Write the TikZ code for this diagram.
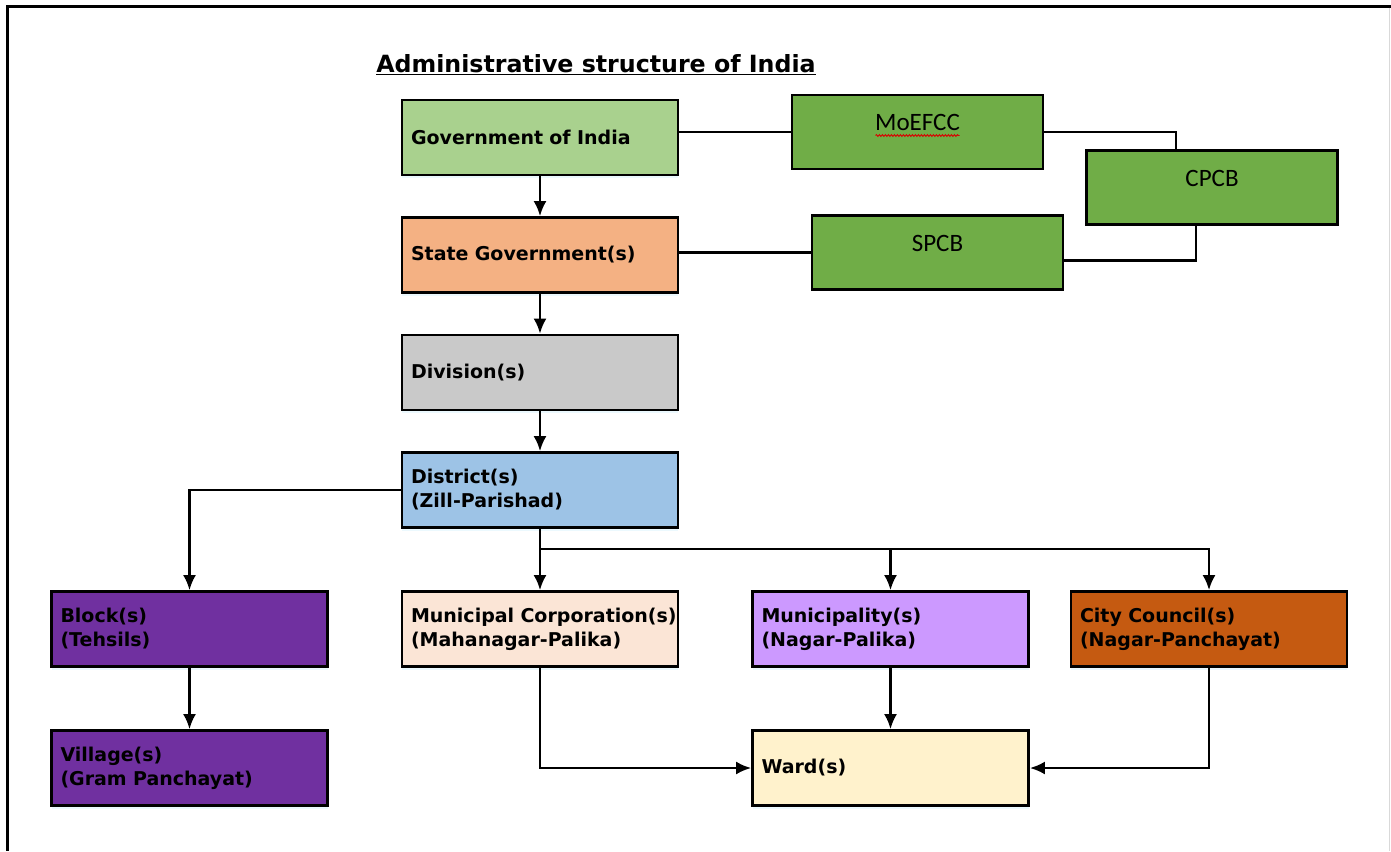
\documentclass[tikz,border=0pt]{standalone}
\usepackage{fontspec}
\setsansfont{DejaVu Sans}
\newfontfamily\agencyfont{Carlito}
\usepackage{tikz}
\usetikzlibrary{arrows.meta,positioning,shadows,decorations.pathmorphing}
\definecolor{indiagreen}{HTML}{A9D18E}
\definecolor{stateorange}{HTML}{F4B183}
\definecolor{divgray}{HTML}{C9C9C9}
\definecolor{distblue}{HTML}{9DC3E6}
\definecolor{rurpurple}{HTML}{7030A0}
\definecolor{corppeach}{HTML}{FBE5D6}
\definecolor{munililac}{HTML}{CC99FF}
\definecolor{councilrust}{HTML}{C55A11}
\definecolor{wardcream}{HTML}{FFF2CC}
\definecolor{agencygreen}{HTML}{70AD47}
\tikzset{%
  >={Latex[width=13pt,length=15pt]},
          base/.style = {rectangle, draw=black, line width=2.8pt},
          tier/.style = {base, text width=258pt, minimum height=75pt, inner sep=9pt,
                         align=left, font=\sffamily\bfseries\fontsize{19}{24}\selectfont,
                         drop shadow={shadow xshift=0pt, shadow yshift=-3pt,
                                      fill=cyan!12, opacity=0.6}},
        agency/.style = {base, minimum width=251pt, minimum height=74pt, fill=agencygreen,
                         text height=16pt, text depth=19pt,
                         font=\agencyfont\fontsize{25}{28}\selectfont},
          link/.style = {line width=2.4pt},
}
\begin{document}
\begin{tikzpicture}[x=1pt, y=-1pt, node distance=117.5pt]
  \useasboundingbox (0,0) rectangle (1391,851);

  % frame
  \draw[line width=2.8pt] (1391,6.5) -- (7.5,6.5) -- (7.5,851);
  \draw[black!15, line width=1pt] (1389.5,8) -- (1389.5,851);

  \node (title) at (596,65) {\sffamily\bfseries\fontsize{23.7}{26}\selectfont\underline{Administrative structure of India}};

  \node (india)    [tier, fill=indiagreen] at (540,137.5)  {Government of India};
  \node (state)    [tier, fill=stateorange, below of=india   ]  {State Government(s)};
  \node (division) [tier, fill=divgray,     below of=state   ]  {Division(s)};
  \node (district) [tier, fill=distblue,    below of=division]  {District(s)\\(Zill-Parishad)};
  \node (corp)     [tier, fill=corppeach,   below of=district, yshift=-21.5pt]  {\mbox{Municipal Corporation(s)}\\(Mahanagar-Palika)};
  \node (block)    [tier, fill=rurpurple,   below of=district, xshift=-350.5pt, yshift=-21.5pt]  {Block(s)\\(Tehsils)};
  \node (muni)     [tier, fill=munililac,   below of=district, xshift= 350.5pt, yshift=-21.5pt]  {Municipality(s)\\(Nagar-Palika)};
  \node (council)  [tier, fill=councilrust, below of=district, xshift= 669pt,   yshift=-21.5pt]  {City Council(s)\\(Nagar-Panchayat)};
  \node (village)  [tier, fill=rurpurple,   below of=block,    yshift=-21.5pt]  {Village(s)\\(Gram Panchayat)};
  \node (ward)     [tier, fill=wardcream,   below of=muni,     yshift=-21.5pt]  {Ward(s)};

  \node (moefcc) [agency] at (917.5,132)  {MoEFCC};
  \node (cpcb)   [agency] at (1212,187.5) {CPCB};
  \node (spcb)   [agency] at (937.5,252.5) {SPCB};

  % spell-check mark
  \draw[red!85!black, line width=0.9pt, decorate, decoration={snake, amplitude=0.9pt, segment length=3pt}]
    ([xshift=-42pt, yshift=-3.5pt]moefcc.center) -- ([xshift=42pt, yshift=-3.5pt]moefcc.center);

  \draw[->, link] (india) -- (state);
  \draw[->, link] (state) -- (division);
  \draw[->, link] (division) -- (district);
  \draw[->, link] (district) -| (block);
  \draw[->, link] (district) -- (corp);
  \draw[->, link] ([yshift=-20pt]district.south) -| (muni);
  \draw[->, link] ([yshift=-20pt]district.south) -| (council);
  \draw[->, link] (block) -- (village);
  \draw[->, link] (corp) |- (ward);
  \draw[->, link] (muni) -- (ward);
  \draw[->, link] (council) |- (ward);

  \draw[link] (india.east |- moefcc.west) -- (moefcc.west);
  \draw[link] (state.east |- spcb.west) -- (spcb.west);
  \draw[link] (moefcc) -| ([xshift=-36pt]cpcb.north);
  \draw[link] ([yshift=-8pt]spcb.east) -| ([xshift=-16pt]cpcb.south);
\end{tikzpicture}
\end{document}
